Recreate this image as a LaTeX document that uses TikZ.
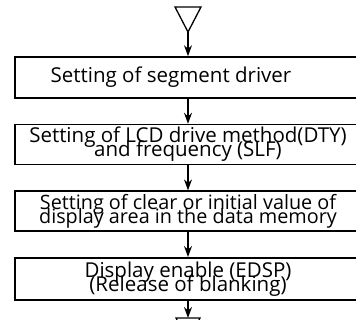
\documentclass[tikz,border=0pt]{standalone}
\usepackage{fontspec}
\setmainfont{Open Sans}
\usetikzlibrary{arrows.meta,positioning}
\newcommand{\tightlines}{\lineskiplimit=-30pt\relax}
\tikzset{
  stepbox/.style={
    rectangle,
    draw=black,
    line width=1.6pt,
    minimum width=346pt,
    minimum height=40pt,
    align=center,
    inner sep=0pt,
    font=\fontsize{20.5}{14}\selectfont\tightlines
  },
  arrow/.style={-{Stealth[length=11pt,width=8pt]}, line width=1.3pt},
  terminal/.style={line width=1.3pt}
}
\begin{document}
\begin{tikzpicture}[x=1pt, y=-1pt, node distance=25pt]
  \useasboundingbox (0,0) rectangle (356,320);
  % start and end marks
  \draw[terminal] (175,7) -- (201,7) -- (188,32) -- cycle;
  \coordinate (startTip) at (188,32);
  \draw[terminal] (176,318) -- (200,318) -- (188,343) -- cycle;
  \coordinate (endTop) at (188,318);
  % steps
  \node[stepbox, minimum height=41pt] (segment) at (188,77.5) {Setting of segment driver\hspace*{34pt}};
  \node[stepbox, below=of segment] (lcdmode) {Setting of LCD drive method(DTY)\\and frequency (SLF)};
  \node[stepbox, below=of lcdmode, font=\fontsize{19.8}{14}\selectfont\tightlines] (clearram) {Setting of clear or initial value of\\display area in the data memory};
  \node[stepbox, minimum height=42pt, below=of clearram] (enable) {Display enable (EDSP)\\(Release of blanking)};
  \draw[arrow] (startTip) -- (segment);
  \draw[arrow] (segment) -- (lcdmode);
  \draw[arrow] (lcdmode) -- (clearram);
  \draw[arrow] (clearram) -- (enable);
  \draw[arrow] (enable) -- (endTop);
\end{tikzpicture}
\end{document}
